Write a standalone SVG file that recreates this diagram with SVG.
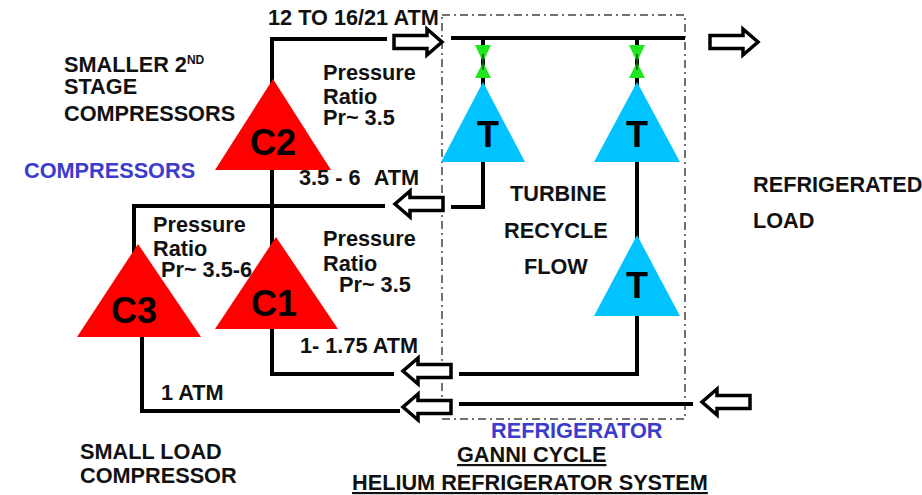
<svg xmlns="http://www.w3.org/2000/svg" width="922" height="495" viewBox="0 0 922 495">
<defs>
<path id="ar" d="M-24 -6.5 H9 V-13 L24 0 L9 13 V6.5 H-24 Z" fill="#fff" stroke="#000" stroke-width="3.5" stroke-miterlimit="6"/>
<path id="al" d="M24 -6.5 H-9 V-13 L-24 0 L-9 13 V6.5 H24 Z" fill="#fff" stroke="#000" stroke-width="3.5" stroke-miterlimit="6"/>
</defs>
<style>
text{font-family:"Liberation Sans",Arial,sans-serif;font-weight:bold;font-size:21.7px;fill:#111}
.b{fill:#3c3ccc}
.n{font-size:36px;fill:#000}
.u{text-decoration:underline}
.l{fill:none;stroke:#000;stroke-width:4}
.box{fill:none;stroke:#444;stroke-width:1.5;stroke-dasharray:8 4 2 4}
.c{fill:#f00}.t{fill:#00c3ff}.v{fill:#1fe61f}
</style>
<rect class="box" x="442" y="15" width="243" height="404"/>
<g id="connectors">
<path class="l" d="M387 39 H272 V300"/>
<path class="l" d="M451 38 H685"/>
<path class="l" d="M483 38 V90"/>
<path class="l" d="M637 38 V90"/>
<path class="l" d="M483 160 V207 H451"/>
<path class="l" d="M385 206 H134 V260"/>
<path class="l" d="M637 160 V240"/>
<path class="l" d="M637 310 V374 H459"/>
<path class="l" d="M394 374 H272 V325"/>
<path class="l" d="M693 404 H459"/>
<path class="l" d="M400 411 H142 V335"/>
<use href="#ar" x="418" y="42"/>
<use href="#ar" x="734" y="42"/>
<use href="#al" x="419" y="204"/>
<use href="#al" x="427" y="371"/>
<use href="#al" x="427" y="407"/>
<use href="#al" x="726" y="402"/>
</g>
<g id="C2"><polygon class="c" points="273,79 331,170 215,170"/><text class="n" x="273" y="155" text-anchor="middle">C2</text></g>
<g id="C1"><polygon class="c" points="276,237 338,329 215,329"/><text class="n" x="274" y="316" text-anchor="middle">C1</text></g>
<g id="C3"><polygon class="c" points="138,244 201,337 77,337"/><text class="n" x="134" y="323" text-anchor="middle">C3</text></g>
<g id="T1"><polygon class="t" points="483,82 525,162 441,162"/><text class="n" x="488" y="147" text-anchor="middle">T</text></g>
<g id="T2"><polygon class="t" points="637,82 680,162 594,162"/><text class="n" x="637" y="147" text-anchor="middle">T</text></g>
<g id="T3"><polygon class="t" points="637,235 680,316 594,316"/><text class="n" x="637" y="298" text-anchor="middle">T</text></g>
<g id="V1"><polygon class="v" points="475,45 491,45 483,62"/><polygon class="v" points="475,78 491,78 483,62"/><path d="M483 54 V70" stroke="#0a4a0a" stroke-width="1.5"/></g>
<g id="V2"><polygon class="v" points="629,45 645,45 637,62"/><polygon class="v" points="629,78 645,78 637,62"/><path d="M637 54 V70" stroke="#0a4a0a" stroke-width="1.5"/></g>
<text x="268" y="25">12 TO 16/21 ATM</text>
<text x="64" y="72">SMALLER 2<tspan font-size="12" dy="-8">ND</tspan><tspan x="64" y="94">STAGE</tspan><tspan x="64" y="121">COMPRESSORS</tspan></text>
<text class="b" x="24" y="178">COMPRESSORS</text>
<text x="323" y="80">Pressure<tspan x="323" y="104">Ratio</tspan><tspan x="323" y="125">Pr~ 3.5</tspan></text>
<text x="299" y="185">3.5 - 6<tspan dx="8"> ATM</tspan></text>
<text x="510" y="201">TURBINE</text>
<text x="504" y="238">RECYCLE</text>
<text x="524" y="274">FLOW</text>
<text x="753" y="192">REFRIGERATED</text>
<text x="753" y="228">LOAD</text>
<text x="153" y="232">Pressure<tspan x="153" y="256">Ratio</tspan><tspan x="161" y="277">Pr~ 3.5-6</tspan></text>
<text x="323" y="246">Pressure<tspan x="323" y="271">Ratio</tspan><tspan x="339" y="292">Pr~ 3.5</tspan></text>
<text x="300" y="353">1- 1.75 ATM</text>
<text x="161" y="400">1 ATM</text>
<text class="b" x="491" y="438">REFRIGERATOR</text>
<text x="80" y="459">SMALL LOAD</text>
<text x="80" y="483">COMPRESSOR</text>
<text class="u" x="457" y="462">GANNI CYCLE</text>
<text class="u" x="352" y="490">HELIUM REFRIGERATOR SYSTEM</text>
</svg>
